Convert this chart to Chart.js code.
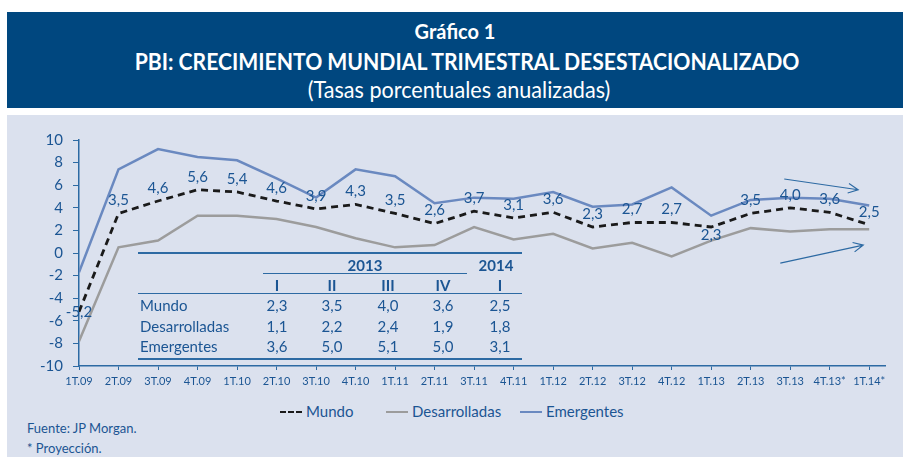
<!DOCTYPE html>
<html>
<head>
<meta charset="utf-8">
<script src="https://cdn.jsdelivr.net/npm/chart.js@4.4.1/dist/chart.umd.min.js"></script>
<style>
  body { margin: 0; width: 903px; height: 457px; background: #fff; position: relative; overflow: hidden; font-family: Lato, sans-serif; }
  #banner { position: absolute; left: 7px; top: 12px; width: 896px; height: 96px; background: #00477f; color: #fff; text-align: center; }
  #banner div { position: absolute; left: 0; width: 100%; white-space: nowrap; }
  #panel { position: absolute; left: 7px; top: 115px; width: 896px; height: 342px; background: #dbe1ee; }
  #chartBox { position: absolute; left: 0; top: 113px; width: 903px; height: 284px; }
  .txt { position: absolute; color: #1b5593; white-space: nowrap; }
  .line { position: absolute; background: #2d6aa3; }
</style>
</head>
<body>
<div id="banner">
  <div style="top:6px;font-weight:bold;font-size:21px;transform:scaleX(0.95);">Gráfico 1</div>
  <div style="top:35px;left:12px;font-weight:bold;font-size:23.5px;transform:scaleX(0.9);">PBI: CRECIMIENTO MUNDIAL TRIMESTRAL DESESTACIONALIZADO</div>
  <div style="top:64px;left:4px;font-size:22.5px;transform:scaleX(0.96);">(Tasas porcentuales anualizadas)</div>
</div>
<div id="panel"></div>
<div id="chartBox"><canvas id="gdpChart"></canvas></div>
<div id="table"></div>
<div id="legend"></div>
<div class="txt" style="left:27px;top:420px;font-size:13px;">Fuente: JP Morgan.</div>
<div class="txt" style="left:27px;top:440px;font-size:13px;">* Proyección.</div>

<script>
// Quarters
const quarters = ['1T.09', '2T.09', '3T.09', '4T.09', '1T.10', '2T.10', '3T.10', '4T.10', '1T.11', '2T.11', '3T.11',
                  '4T.11', '1T.12', '2T.12', '3T.12', '4T.12', '1T.13', '2T.13', '3T.13', '4T.13*', '1T.14*'];

// Series (annualized % change)
const mundo = [-5.2, 3.5, 4.6, 5.6, 5.4, 4.6, 3.9, 4.3, 3.5, 2.6, 3.7, 3.1, 3.6, 2.3, 2.7, 2.7, 2.3, 3.5, 4.0, 3.6, 2.5];
const desarrolladas = [-7.8, 0.5, 1.1, 3.3, 3.3, 3.0, 2.3, 1.3, 0.5, 0.7, 2.3, 1.2, 1.7, 0.4, 0.9, -0.3, 1.1, 2.2, 1.9, 2.1, 2.1];
const emergentes = [-1.7, 7.4, 9.2, 8.5, 8.2, 6.6, 4.9, 7.4, 6.8, 4.4, 4.9, 4.8, 5.4, 4.1, 4.3, 5.8, 3.3, 4.7, 4.9, 4.8, 4.2];

// Y ticks
const yMin = -10, yMax = 10, yStep = 2;

// Inset table
const tableYears = ['2013', '2014'];
const tableQuarters = ['I', 'II', 'III', 'IV', 'I'];
const tableRows = ['Mundo', 'Desarrolladas', 'Emergentes'];
const tableMundo = [2.3, 3.5, 4.0, 3.6, 2.5];
const tableDesarrolladas = [1.1, 2.2, 2.4, 1.9, 1.8];
const tableEmergentes = [3.6, 5.0, 5.1, 5.0, 3.1];

// Trend arrows, in data units [x0, y0, x1, y1]
const arrowTop = [17.85, 6.55, 19.72, 5.6];
const arrowBottom = [17.75, -0.9, 19.85, 0.7];

const blue = '#1b5593';
const axisBlue = '#2d6aa3';
const fmt = v => v.toFixed(1).replace('.', ',');
const toXY = arr => arr.map((v, i) => ({ x: i, y: v }));

const mundoLabels = {
  id: 'mundoLabels',
  afterDatasetsDraw(chart) {
    const ctx = chart.ctx;
    const meta = chart.getDatasetMeta(2);
    ctx.save();
    ctx.font = '15px Lato, sans-serif';
    ctx.fillStyle = blue;
    ctx.textAlign = 'center';
    ctx.textBaseline = 'middle';
    meta.data.forEach((pt, i) => {
      let y = pt.y - 13;
      if (i === 0) y = pt.y;
      if (i === 16) y = pt.y + 8;
      ctx.fillText(fmt(mundo[i]), pt.x, y);
    });
    ctx.restore();
  }
};

const arrows = {
  id: 'arrows',
  afterDatasetsDraw(chart) {
    const ctx = chart.ctx;
    const xs = chart.scales.x, ys = chart.scales.y;
    ctx.save();
    ctx.strokeStyle = axisBlue;
    ctx.lineWidth = 1.2;
    [arrowTop, arrowBottom].forEach(a => {
      const x0 = xs.getPixelForValue(a[0]), y0 = ys.getPixelForValue(a[1]);
      const x1 = xs.getPixelForValue(a[2]), y1 = ys.getPixelForValue(a[3]);
      const ang = Math.atan2(y1 - y0, x1 - x0);
      ctx.beginPath();
      ctx.moveTo(x0, y0);
      ctx.lineTo(x1, y1);
      ctx.moveTo(x1 - 11 * Math.cos(ang - 0.45), y1 - 11 * Math.sin(ang - 0.45));
      ctx.lineTo(x1, y1);
      ctx.lineTo(x1 - 11 * Math.cos(ang + 0.45), y1 - 11 * Math.sin(ang + 0.45));
      ctx.stroke();
    });
    ctx.restore();
  }
};

const chart = new Chart(document.getElementById('gdpChart').getContext('2d'), {
  type: 'line',
  data: {
    datasets: [
      { label: 'Emergentes', data: toXY(emergentes), borderColor: '#6a89c0', borderWidth: 2.5 },
      { label: 'Desarrolladas', data: toXY(desarrolladas), borderColor: '#9c9c9c', borderWidth: 2.5 },
      { label: 'Mundo', data: toXY(mundo), borderColor: '#1a1a1a', borderWidth: 2.8, borderDash: [7, 5] }
    ]
  },
  options: {
    responsive: true,
    maintainAspectRatio: false,
    animation: false,
    elements: { point: { radius: 0 }, line: { tension: 0 } },
    layout: { padding: { left: 0, right: 18, top: 27, bottom: 0 } },
    plugins: { legend: { display: false }, tooltip: { enabled: false } },
    scales: {
      x: {
        type: 'linear',
        min: 0,
        max: 20.4,
        afterBuildTicks: s => { s.ticks = quarters.map((q, i) => ({ value: i })); },
        afterFit: s => { s.height = 31; },
        border: { display: true, color: axisBlue, width: 1.5 },
        grid: { drawOnChartArea: false, drawTicks: true, tickLength: 4, color: axisBlue },
        ticks: {
          autoSkip: false, maxRotation: 0, padding: 5,
          color: blue, font: { family: 'Lato', size: 11 },
          callback: v => quarters[v]
        }
      },
      y: {
        min: yMin,
        max: yMax,
        afterFit: s => { s.width = 79; },
        border: { display: true, color: axisBlue, width: 1.5 },
        grid: { drawOnChartArea: false, drawTicks: true, tickLength: 6, color: axisBlue },
        ticks: { stepSize: yStep, padding: 10, color: blue, font: { family: 'Lato', size: 15 } }
      }
    }
  },
  plugins: [mundoLabels, arrows]
});

// Inset table
const table = document.getElementById('table');
const colX = [277, 332, 388, 443, 500];
const addText = (txt, x, y, size, bold, align) => {
  const d = document.createElement('div');
  d.className = 'txt';
  d.textContent = txt;
  d.style.fontSize = size + 'px';
  d.style.top = (y - size * 0.62) + 'px';
  if (bold) d.style.fontWeight = 'bold';
  if (align === 'center') { d.style.left = x + 'px'; d.style.transform = 'translateX(-50%)'; }
  else d.style.left = x + 'px';
  table.appendChild(d);
};
const addLine = (x0, x1, y, h) => {
  const d = document.createElement('div');
  d.className = 'line';
  d.style.left = x0 + 'px'; d.style.width = (x1 - x0) + 'px';
  d.style.top = y + 'px'; d.style.height = h + 'px';
  table.appendChild(d);
};
addLine(138, 522, 252, 1.5);
addText(tableYears[0], 365, 265, 15, true, 'center');
addText(tableYears[1], 496, 265, 15, true, 'center');
addLine(263, 467, 272.5, 1.2);
tableQuarters.forEach((q, i) => addText(q, colX[i], 285, 15, true, 'center'));
addLine(138, 522, 292.5, 1.2);
[tableMundo, tableDesarrolladas, tableEmergentes].forEach((row, r) => {
  const y = 305.5 + r * 20.5;
  addText(tableRows[r], 140, y, 15, false);
  row.forEach((v, i) => addText(fmt(v), colX[i], y, 15, false, 'center'));
});
addLine(138, 522, 358, 2);

// Legend
const legend = document.getElementById('legend');
const legendItems = [
  { label: 'Mundo', color: '#1a1a1a', dash: true, x: 280 },
  { label: 'Desarrolladas', color: '#9c9c9c', dash: false, x: 386 },
  { label: 'Emergentes', color: '#6a89c0', dash: false, x: 520 }
];
legendItems.forEach(it => {
  const l = document.createElement('div');
  l.style.position = 'absolute';
  l.style.left = it.x + 'px'; l.style.top = '411px';
  l.style.width = '22px'; l.style.height = '0';
  l.style.borderTop = it.dash ? '2.5px dashed ' + it.color : '2.5px solid ' + it.color;
  legend.appendChild(l);
  const t = document.createElement('div');
  t.className = 'txt';
  t.textContent = it.label;
  t.style.left = (it.x + 26) + 'px'; t.style.top = '402px'; t.style.fontSize = '15px';
  legend.appendChild(t);
});
</script>
</body>
</html>
